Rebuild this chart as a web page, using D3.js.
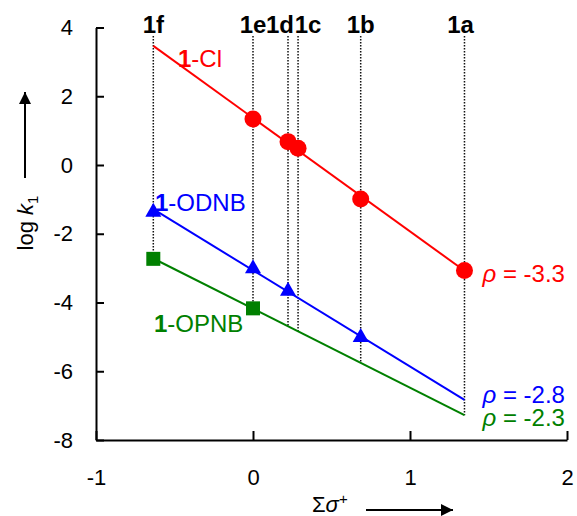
<!DOCTYPE html>
<html>
<head>
<meta charset="utf-8">
<script src="https://cdn.jsdelivr.net/npm/d3@7"></script>
<style>
  html, body { margin: 0; padding: 0; background: #fff; }
  svg { display: block; font-family: "Liberation Sans", Arial, sans-serif; }
</style>
</head>
<body>
<svg id="chart" width="577" height="516"></svg>
<script>
// Substrates and their substituent constants (Σσ+)
const compounds = ["1f", "1e", "1d", "1c", "1b", "1a"];
const sigmaPlus = [-0.635, 0, 0.223, 0.287, 0.686, 1.347];

// log k1 for each leaving group (null = not measured)
const logK_Cl   = [null, 1.34, 0.68, 0.49, -0.99, -3.07];
const logK_ODNB = [-1.36, -3.0, -3.66, null, -5.0, null];
const logK_OPNB = [-2.73, -4.17, null, null, null, null];

// Hammett reaction constants
const rhoValues = [-3.3, -2.8, -2.3];
const seriesNames = ["Cl", "ODNB", "OPNB"];

const xTicks = [-1, 0, 1, 2];
const yTicks = [4, 2, 0, -2, -4, -6, -8];

const svg = d3.select("#chart");
const x = d3.scaleLinear().domain([-1, 2]).range([96, 567]);
const y = d3.scaleLinear().domain([-8, 4]).range([440, 27.5]);

const series = [
  { name: seriesNames[0], values: logK_Cl,   rho: rhoValues[0], color: "#ff0000", marker: "circle",
    label: { x: 178, y: 67 }, rhoDy: 11 },
  { name: seriesNames[1], values: logK_ODNB, rho: rhoValues[1], color: "#0000ff", marker: "triangle",
    label: { x: 155, y: 211 }, rhoDy: 3 },
  { name: seriesNames[2], values: logK_OPNB, rho: rhoValues[2], color: "#008000", marker: "square",
    label: { x: 154, y: 332 }, rhoDy: 11 }
];

// Fit line: slope rho through the centroid of the measured points
series.forEach(s => {
  const pts = sigmaPlus.map((sx, i) => [sx, s.values[i]]).filter(p => p[1] !== null);
  const mx = d3.mean(pts, p => p[0]);
  const my = d3.mean(pts, p => p[1]);
  s.points = pts;
  s.fit = xv => my + s.rho * (xv - mx);
});

const xMin = d3.min(sigmaPlus), xMax = d3.max(sigmaPlus);
const lowest = series[2];

// Dotted guide lines for each compound
const labelNudge = { "1d": -8, "1c": 10, "1a": -4 };
const guides = svg.append("g");
compounds.forEach((c, i) => {
  const sx = sigmaPlus[i];
  guides.append("line")
    .attr("x1", x(sx)).attr("x2", x(sx))
    .attr("y1", 36).attr("y2", y(lowest.fit(sx)))
    .attr("stroke", "#111").attr("stroke-width", 1.5)
    .attr("stroke-dasharray", "1.5,1.5");
  guides.append("text")
    .attr("x", x(sx) + (labelNudge[c] || 0)).attr("y", 33)
    .attr("text-anchor", "middle")
    .attr("font-size", 24).attr("font-weight", "bold")
    .text(c);
});

// Axes
const axisY = d3.axisLeft(y).tickValues(yTicks).tickSizeInner(-8).tickSizeOuter(0).tickPadding(23)
  .tickFormat(d3.format("d"));
const axisX = d3.axisBottom(x).tickValues(xTicks).tickSizeInner(-9).tickSizeOuter(0).tickPadding(29)
  .tickFormat(d3.format("d"));

const gy = svg.append("g").attr("transform", "translate(96,0)").call(axisY);
const gx = svg.append("g").attr("transform", "translate(0,440)").call(axisX);
[gx, gy].forEach(g => {
  g.select(".domain").attr("stroke", "#000").attr("stroke-width", 2);
  g.selectAll(".tick line").attr("stroke", "#000").attr("stroke-width", 2);
  g.selectAll(".tick text").attr("font-size", 22).attr("fill", "#000")
    .attr("font-family", "Liberation Sans, Arial, sans-serif");
});
gx.selectAll(".tick text").text(d => d < 0 ? "-" + Math.abs(d) : d);
gy.selectAll(".tick text").text(d => d < 0 ? "-" + Math.abs(d) : d);

// Fit lines and markers
const plot = svg.append("g");
series.forEach(s => {
  plot.append("line")
    .attr("x1", x(xMin)).attr("y1", y(s.fit(xMin)))
    .attr("x2", x(xMax)).attr("y2", y(s.fit(xMax)))
    .attr("stroke", s.color).attr("stroke-width", 2);
});
series.forEach(s => {
  s.points.forEach(([px, py]) => {
    const cx = x(px), cy = y(py);
    if (s.marker === "circle") {
      plot.append("circle").attr("cx", cx).attr("cy", cy).attr("r", 8.5).attr("fill", s.color);
    } else if (s.marker === "triangle") {
      plot.append("path")
        .attr("d", `M${cx},${cy - 9}L${cx + 8},${cy + 5}L${cx - 8},${cy + 5}Z`)
        .attr("fill", s.color);
    } else {
      plot.append("rect").attr("x", cx - 7).attr("y", cy - 7).attr("width", 14).attr("height", 14)
        .attr("fill", s.color);
    }
  });
});

// Series labels
series.forEach(s => {
  const t = svg.append("text").attr("x", s.label.x).attr("y", s.label.y)
    .attr("font-size", 24).attr("fill", s.color);
  t.append("tspan").attr("font-weight", "bold").text("1");
  t.append("tspan").text("-" + s.name);

  const r = svg.append("text").attr("x", x(xMax) + 18).attr("y", y(s.fit(xMax)) + s.rhoDy)
    .attr("font-size", 24).attr("fill", s.color);
  r.append("tspan").attr("font-style", "italic").text("ρ");
  r.append("tspan").text(" = " + s.rho.toFixed(1));
});

// Axis titles with arrows
const defs = svg.append("defs");
defs.append("marker").attr("id", "arrow").attr("viewBox", "0 0 10 10")
  .attr("refX", 10).attr("refY", 5).attr("markerWidth", 6.5).attr("markerHeight", 6)
  .attr("markerUnits", "strokeWidth").attr("orient", "auto")
  .append("path").attr("d", "M0,0L10,5L0,10Z").attr("fill", "#000");

svg.append("line").attr("x1", 366).attr("y1", 510).attr("x2", 453).attr("y2", 510)
  .attr("stroke", "#000").attr("stroke-width", 2).attr("marker-end", "url(#arrow)");
svg.append("line").attr("x1", 25).attr("y1", 178).attr("x2", 25).attr("y2", 92)
  .attr("stroke", "#000").attr("stroke-width", 2).attr("marker-end", "url(#arrow)");

const xt = svg.append("text").attr("x", 312).attr("y", 512).attr("font-size", 22);
xt.append("tspan").text("Σ");
xt.append("tspan").attr("font-style", "italic").text("σ");
xt.append("tspan").attr("font-size", 15).attr("dy", -8).text("+");

const yt = svg.append("text").attr("transform", "translate(33,223) rotate(-90)")
  .attr("text-anchor", "middle").attr("font-size", 22);
yt.append("tspan").text("log ");
yt.append("tspan").attr("font-style", "italic").text("k");
yt.append("tspan").attr("font-size", 15).attr("dy", 5).text("1");
</script>
</body>
</html>
